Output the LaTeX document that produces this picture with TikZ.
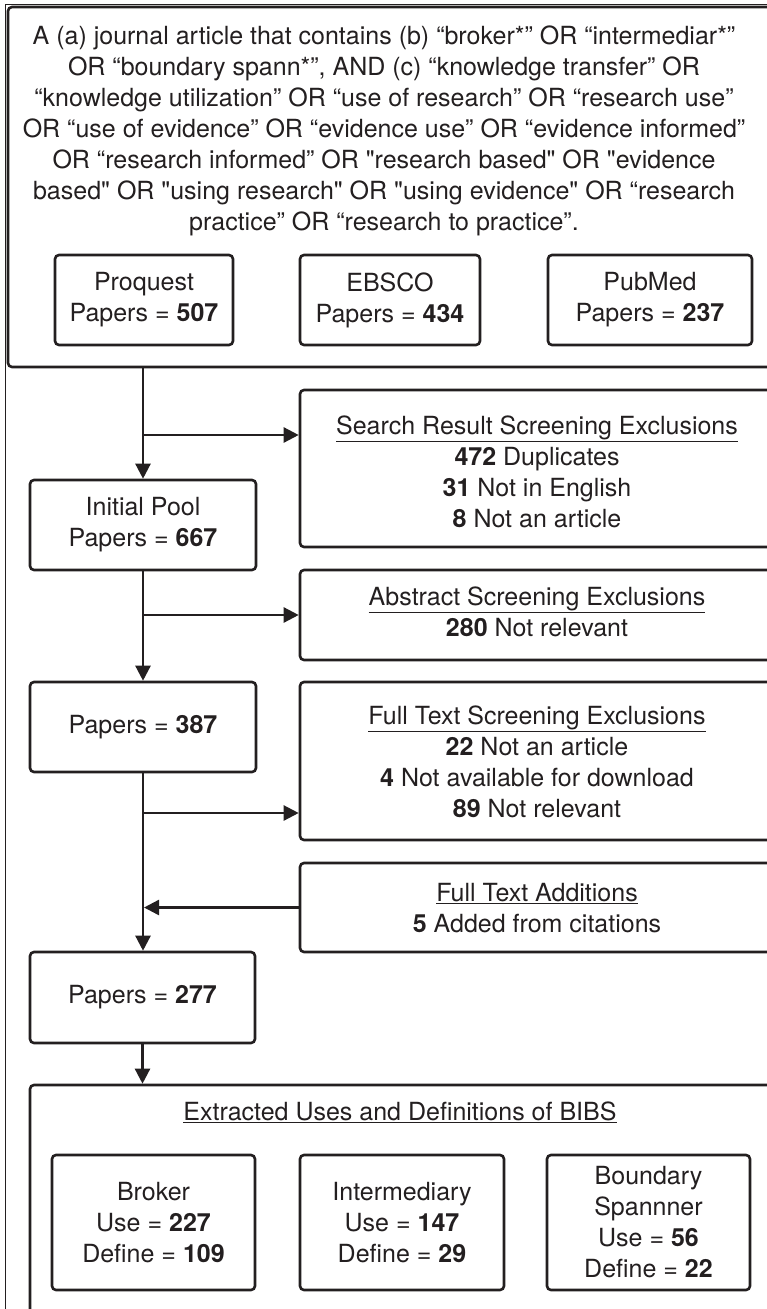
\documentclass[tikz,border=0pt]{standalone}
\usepackage{fontspec}
\setmainfont{TeX Gyre Heros}[Ligatures=TeXOff]
\usetikzlibrary{arrows.meta}
\definecolor{ink}{HTML}{231F20}
\begin{document}
\begin{tikzpicture}[x=1pt,y=-1pt,
  box/.style={draw=ink, line width=2.6pt, rounded corners=4pt, inner sep=0pt,
    align=center, font=\fontsize{25}{31}\selectfont, text=ink},
  txt/.style={align=center, font=\fontsize{25}{31}\selectfont, inner sep=0pt, text=ink},
  arr/.style={draw=ink, line width=2.4pt, -{Triangle[length=15pt,width=15pt]}},
  frame/.style={draw=ink, line width=0.9pt}]
\useasboundingbox (0,0) rectangle (767,1309);
\clip (0,0) rectangle (767,1309);
\draw[frame] (5,1309) -- (5,4) -- (767,4);
% top search box
\node[box, minimum width=772, minimum height=360] (top) at (394,187) {};
\node[txt] (toptext) at (384,131) {A (a) journal article that contains (b) “broker*” OR “intermediar*”\\
OR “boundary spann*”, AND (c) “knowledge transfer” OR\\
“knowledge utilization” OR “use of research” OR “research use”\\
OR “use of evidence” OR “evidence use” OR “evidence informed”\\
OR “research informed” OR "research based" OR "evidence\\
based" OR "using research" OR "using evidence" OR “research\\
practice” OR “research to practice”.};
\node[box, minimum width=178, minimum height=90] (pq) at (144,300) {Proquest\\Papers = \textbf{507}};
\node[box, minimum width=180, minimum height=90] (eb) at (390,300) {EBSCO\\Papers = \textbf{434}};
\node[box, minimum width=204, minimum height=90] (pm) at (650,300) {PubMed\\Papers = \textbf{237}};
% flow
\node[box, minimum width=226, minimum height=90] (init) at (143,525) {Initial Pool\\Papers = \textbf{667}};
\node[box, minimum width=480, minimum height=157] (search) at (540,468.5) {};
\node[txt] (searchtext) at (537,472) {\underline{Search Result Screening Exclusions}\\\textbf{472} Duplicates\\\textbf{31} Not in English\\\textbf{8} Not an article};
\node[box, minimum width=480, minimum height=90] (abs) at (540,615) {};
\node[txt] (abstext) at (537,612) {\underline{Abstract Screening Exclusions}\\\textbf{280} Not relevant};
\node[box, minimum width=226, minimum height=90] (p387) at (143,727) {Papers = \textbf{387}};
\node[box, minimum width=480, minimum height=158] (full) at (540,761) {};
\node[txt] (fulltext) at (537,762) {\underline{Full Text Screening Exclusions}\\\textbf{22} Not an article\\\textbf{4} Not available for download\\\textbf{89} Not relevant};
\node[box, minimum width=480, minimum height=89] (add) at (540,907.5) {};
\node[txt] (addtext) at (537,908) {\underline{Full Text Additions}\\\textbf{5} Added from citations};
\node[box, minimum width=225, minimum height=91] (p277) at (142.5,997.5) {Papers = \textbf{277}};
% bottom
\node[box, minimum width=750, minimum height=245] (bottom) at (405,1207.5) {};
\node[txt] (title) at (400,1112) {\underline{Extracted Uses and Definitions of BIBS}};
\node[box, minimum width=203, minimum height=135] (broker) at (153.5,1222.5) {Broker\\Use = \textbf{227}\\Define = \textbf{109}};
\node[box, minimum width=204, minimum height=135] (inter) at (402,1222.5) {Intermediary\\Use = \textbf{147}\\Define = \textbf{29}};
\node[box, minimum width=203, minimum height=135] (bound) at (648.5,1222.5) {Boundary\\Spannner\\Use = \textbf{56}\\Define = \textbf{22}};
% connectors
\coordinate (b1) at (143,435);
\coordinate (b3) at (143,813);
\draw[arr] (init.north |- top.south) -- (init.north);
\draw[arr] (b1) -- (b1 -| search.west);
\draw[arr] (init.south) -- (p387.north);
\draw[arr] (init.south |- abs.west) -- (abs.west);
\draw[arr] (p387.south) -- (p387.south |- p277.north);
\draw[arr] (b3) -- (b3 -| full.west);
\draw[arr] (add.west) -- ([xshift=1pt]add.west -| p387.south);
\draw[arr] (p277.south) -- (p277.south |- bottom.north);
\end{tikzpicture}
\end{document}
